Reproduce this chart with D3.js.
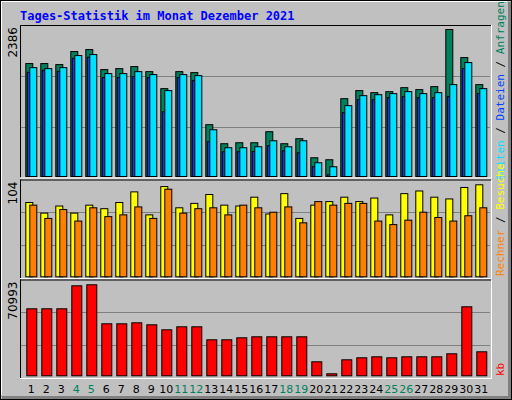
<!DOCTYPE html>
<html><head><meta charset="utf-8">
<script src="https://cdn.jsdelivr.net/npm/d3@7"></script>
<style>body{margin:0;background:#fff}</style></head><body>
<script>
const days = d3.range(1,32);
const weekend = [4,5,11,12,18,19,25,26];
const anfragen = [1833,1833,1816,2028,2060,1735,1751,1784,1702,1426,1702,1686,841,532,548,548,727,532,613,304,272,1263,1394,1361,1377,1442,1410,1459,2386,1930,1491];
const dateien = [1691,1724,1707,1919,1935,1605,1605,1621,1605,1052,1605,1556,564,402,402,407,499,418,385,158,28,1036,1247,1247,1280,1296,1280,1280,1296,1751,1345];
const seiten = [1767,1751,1767,1963,1979,1670,1670,1702,1654,1394,1654,1637,759,467,467,483,580,483,580,223,158,1150,1312,1328,1345,1377,1345,1361,1491,1849,1426];
const besuche = [84,72,80,72,81,77,84,96,70,102,78,83,93,81,80,90,71,94,66,81,85,90,85,89,70,94,97,90,88,101,104];
const rechner = [81,66,76,63,78,68,70,79,66,99,72,77,78,70,81,78,73,79,61,85,81,83,83,63,59,64,73,67,63,69,78];
const kb = [52270,52270,52270,70209,70993,40565,40565,41345,39785,35885,38225,38225,28084,28084,29644,30424,30424,30424,30424,10921,1560,12482,14042,14822,14042,14822,14822,14822,17162,53827,18722];
const maxTop = 2386, maxMid = 104, maxBot = 70993;

const W=512,H=400;
const svg=d3.select("body").append("svg").attr("width",W).attr("height",H);
svg.append("rect").attr("width",W).attr("height",H).attr("fill","#C0C0C0");
svg.append("rect").attr("x",W-4).attr("y",2).attr("width",4).attr("height",H-2).attr("fill","#808080");
svg.append("rect").attr("x",2).attr("y",H-4).attr("width",W-2).attr("height",4).attr("fill","#808080");
svg.append("rect").attr("x",0.5).attr("y",0.5).attr("width",W-1).attr("height",H-1).attr("fill","none").attr("stroke","#000");
svg.append("line").attr("x1",1).attr("x2",W-5).attr("y1",1.5).attr("y2",1.5).attr("stroke","#fff");
svg.append("line").attr("x1",1.5).attr("x2",1.5).attr("y1",1).attr("y2",H-5).attr("stroke","#fff");

svg.append("text").attr("x",20).attr("y",20).attr("font-family","DejaVu Sans Mono").attr("font-weight","bold")
  .attr("font-size",12).attr("fill","#0000FF").text("Tages-Statistik im Monat Dezember 2021");

const x = d3.scaleLinear().domain([1,31]).range([25.3,475.3]);
const panels = [
  {top:25, bot:177.5, base:176, maxY:29, max:maxTop, label:"2386"},
  {top:179.5, bot:278, base:276.3, maxY:184.3, max:maxMid, label:"104"},
  {top:279.5, bot:378, base:375.3, maxY:284.3, max:maxBot, label:"70993"}
];
panels.forEach(p=>{
  p.y = d3.scaleLinear().domain([0,p.max]).range([p.base,p.maxY]);
  const g=svg.append("g");
  // grid
  const h=p.bot-p.top;
  [1/3,2/3].forEach(f=>{
    const yy=Math.round(p.bot - h*f)+0.5;
    g.append("line").attr("x1",21).attr("x2",490).attr("y1",yy).attr("y2",yy).attr("stroke","#808080");
  });
  g.append("line").attr("x1",20).attr("x2",491).attr("y1",p.top+0.5).attr("y2",p.top+0.5).attr("stroke","#000");
  g.append("line").attr("x1",20.5).attr("x2",20.5).attr("y1",p.top).attr("y2",p.bot).attr("stroke","#000");
  g.append("line").attr("x1",20).attr("x2",492).attr("y1",p.bot+0.5).attr("y2",p.bot+0.5).attr("stroke","#fff");
  g.append("line").attr("x1",491.5).attr("x2",491.5).attr("y1",p.top).attr("y2",p.bot+1).attr("stroke","#fff");
  svg.append("text").attr("transform",`translate(17,${p.top+2}) rotate(-90)`).attr("text-anchor","end")
    .attr("font-family","DejaVu Sans").attr("font-size",12).attr("fill","#000").text(p.label);
});

function bars(data, p, dx, w, color){
  svg.append("g").selectAll("rect").data(data).join("rect")
    .attr("x",(d,i)=>x(i+1)+dx+0.5).attr("width",w)
    .attr("y",d=>p.y(d)+0.5).attr("height",d=>Math.max(0,p.base-p.y(d)))
    .attr("fill",color).attr("stroke","#000").attr("stroke-width",1);
}
bars(anfragen,panels[0],0,7,"#00805C");
bars(dateien,panels[0],1.5,7,"#0040FF");
bars(seiten,panels[0],4,7,"#00E0FF");
bars(besuche,panels[1],0,7,"#FFFF00");
bars(rechner,panels[1],4,7,"#FF8000");
bars(kb,panels[2],1,10,"#FF0000");

svg.append("g").selectAll("text").data(days).join("text")
  .attr("x",d=>x(d)+6).attr("y",393).attr("text-anchor","middle")
  .attr("font-family","DejaVu Sans").attr("font-size",11)
  .attr("fill",d=>weekend.includes(d)?"#00805C":"#000").text(d=>d);

function rlabel(y, parts){
  const t=svg.append("text").attr("transform",`translate(504,${y}) rotate(-90)`)
    .attr("font-family","DejaVu Sans Mono").attr("font-size",11);
  parts.forEach(([s,c])=>t.append("tspan").attr("fill",c).text(s));
}
rlabel(180,[["Seiten","#00E0FF"],[" / ","#000"],["Dateien","#0040FF"],[" / ","#000"],["Anfragen","#00805C"]]);
rlabel(276,[["Rechner","#FF8000"],[" / ","#000"],["Besuche","#FFFF00"]]);
rlabel(376,[["kb","#FF0000"]]);
</script></body></html>
